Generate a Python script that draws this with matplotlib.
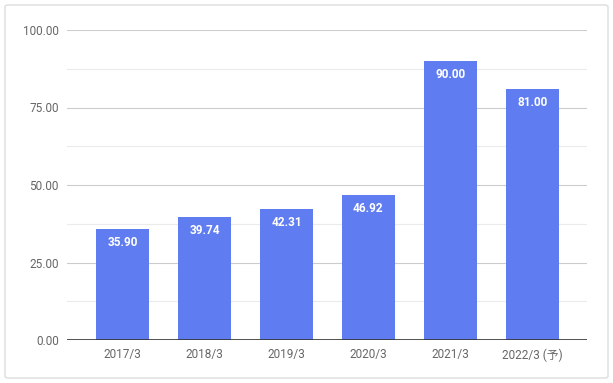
import matplotlib
matplotlib.use("Agg")
import matplotlib.pyplot as plt
from matplotlib.patches import FancyBboxPatch
import numpy as np

categories = ["2017/3", "2018/3", "2019/3", "2020/3", "2021/3", "2022/3 (予)"]
values = [35.90, 39.74, 42.31, 46.92, 90.00, 81.00]
yticks = [0, 25, 50, 75, 100]

plt.rcParams['font.family'] = ['Roboto', 'Noto Sans CJK JP', 'DejaVu Sans']

fig = plt.figure(figsize=(6.13, 3.83), dpi=100)
fig.patch.set_facecolor("white")
border = FancyBboxPatch((5/613, 5/383), 603/613, 373/383, boxstyle="round,pad=0,rounding_size=0.005",
                        transform=fig.transFigure, facecolor="none", edgecolor="#dddddd", linewidth=1)
fig.patches.append(border)

ax = fig.add_axes([67/613, 1-340/383, 520/613, 310/383])
x = np.arange(len(categories))
bars = ax.bar(x, values, width=0.65, color="#5f7cf0", zorder=3)
for xi, v in zip(x, values):
    ax.annotate(f"{v:.2f}", (xi, v), xytext=(0, -10), textcoords="offset points",
                ha="center", va="center", color="white", fontsize=8.5, fontweight="bold", zorder=4)

ax.set_xlim(-0.68, 5.67)
ax.set_ylim(0, 100)
ax.set_yticks(yticks)
ax.set_yticklabels([f"{t:.2f}" for t in yticks])
for t in np.arange(12.5, 100, 25):
    ax.axhline(t, color="#ebebeb", linewidth=0.8, zorder=1)
for t in yticks[1:]:
    ax.axhline(t, color="#cccccc", linewidth=0.8, zorder=1)
ax.axhline(0, color="#333333", linewidth=1.2, zorder=5)
ax.set_xticks(x)
ax.set_xticklabels(categories)
ax.tick_params(axis="both", length=0, labelsize=8.5, labelcolor="#666666")
ax.tick_params(axis="y", pad=6)
ax.tick_params(axis="x", pad=6)
for s in ax.spines.values():
    s.set_visible(False)

fig.savefig("out.png", dpi=100)
